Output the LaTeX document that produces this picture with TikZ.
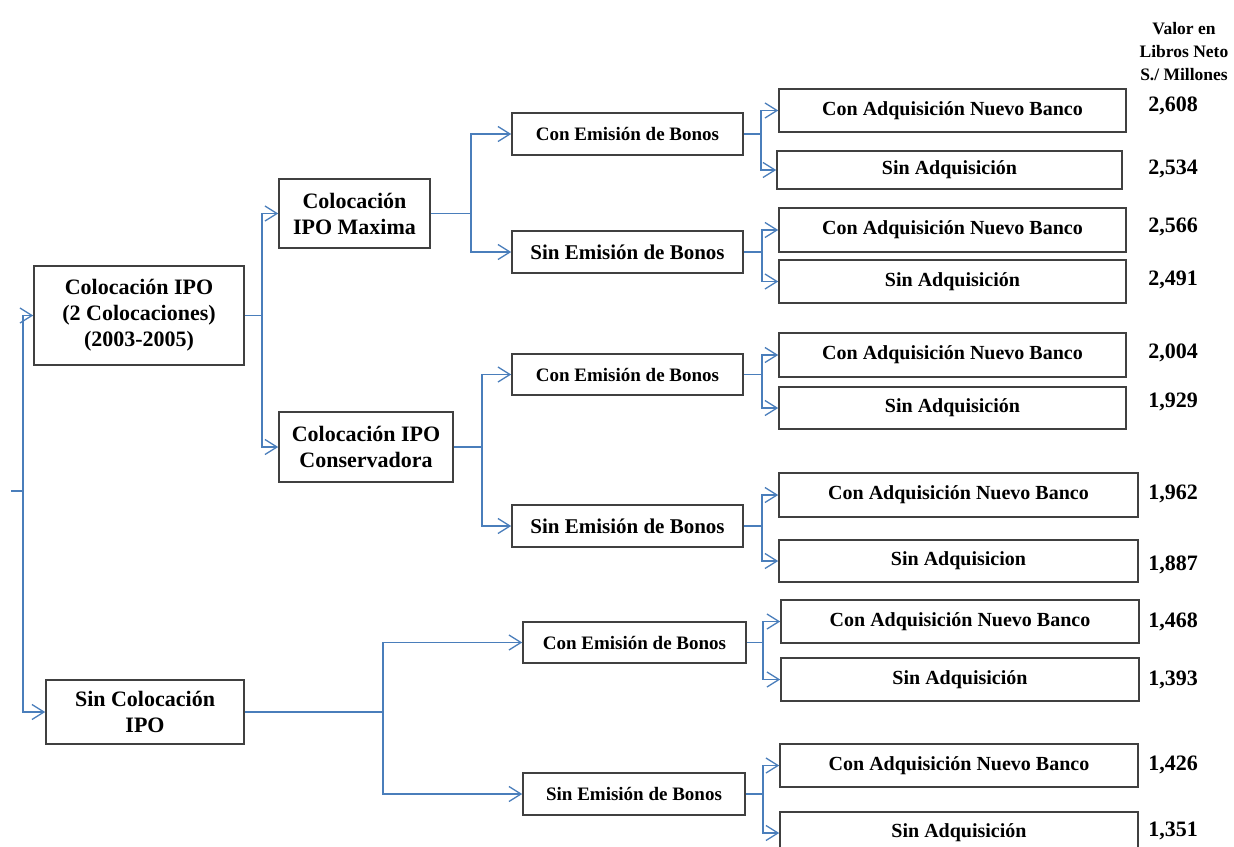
\documentclass[tikz,border=0pt]{standalone}
\usepackage{fontspec}
\setmainfont{Liberation Serif}
\usetikzlibrary{arrows.meta}
\definecolor{lineblue}{HTML}{4A7EBB}
\definecolor{boxgray}{HTML}{404040}
\tikzset{
 bx/.style 2 args={draw=boxgray, line width=1.6pt, fill=white, inner sep=0pt, align=center, minimum width=#1pt, minimum height=#2pt},
 big/.style={font=\bfseries\fontsize{22}{26}\selectfont},
 mid/.style={font=\bfseries\fontsize{19}{23}\selectfont},
 midb/.style={font=\bfseries\fontsize{21}{25}\selectfont},
 leaf/.style={font=\bfseries\fontsize{20}{24}\selectfont},
 val/.style={font=\bfseries\fontsize{22}{26}\selectfont, inner sep=0pt},
 conn/.style={draw=lineblue, line width=1.6pt, -{Straight Barb[length=12pt,width=15pt,line width=1.3pt]}},
 link/.style={draw=lineblue, line width=1.8pt},
}
\begin{document}
\begin{tikzpicture}[x=1pt,y=-1pt]
\useasboundingbox[fill=white] (0,0) rectangle (1234,846);
% header
\node[align=center, inner sep=0pt, font=\bfseries\fontsize{17.5}{23}\selectfont] (hdr) at (1184,52) {Valor en\\Libros Neto\\S./ Millones};
% level 1
\node[bx={210}{99}, big] (A) at (139,315.5) {Colocación IPO\\(2 Colocaciones)\\(2003-2005)};
\node[bx={198}{64}, big] (B) at (145,712) {Sin Colocación\\IPO};
% level 2
\node[bx={151}{69}, big] (C) at (354.5,213.5) {Colocación\\IPO Maxima};
\node[bx={174}{70}, big] (D) at (366,447) {Colocación IPO\\Conservadora};
% level 3
\node[bx={231}{42}, mid] (E1) at (627.5,134) {Con Emisión de Bonos};
\node[bx={231}{42}, midb] (E2) at (627.5,252) {Sin Emisión de Bonos};
\node[bx={231}{41}, mid] (E3) at (627.5,374.5) {Con Emisión de Bonos};
\node[bx={231}{42}, midb] (E4) at (627.5,526) {Sin Emisión de Bonos};
\node[bx={223}{41}, mid] (E5) at (634.5,642.5) {Con Emisión de Bonos};
\node[bx={222}{42}, mid] (E6) at (634,794) {Sin Emisión de Bonos};
% leaves
\node[bx={347}{43}, leaf] (L1) at (952.5,110.5) {Con Adquisición Nuevo Banco};
\node[bx={345}{38}, leaf] (L2) at (949.5,170) {Sin Adquisición};
\node[bx={347}{44}, leaf] (L3) at (952.5,230) {Con Adquisición Nuevo Banco};
\node[bx={347}{43}, leaf] (L4) at (952.5,281.5) {Sin Adquisición};
\node[bx={347}{44}, leaf] (L5) at (952.5,355) {Con Adquisición Nuevo Banco};
\node[bx={347}{42}, leaf] (L6) at (952.5,408) {Sin Adquisición};
\node[bx={359}{44}, leaf] (L7) at (958.5,495) {Con Adquisición Nuevo Banco};
\node[bx={359}{42}, leaf] (L8) at (958.5,561) {Sin Adquisicion};
\node[bx={358}{43}, leaf] (L9) at (960,621.5) {Con Adquisición Nuevo Banco};
\node[bx={358}{43}, leaf] (L10) at (960,679.5) {Sin Adquisición};
\node[bx={358}{43}, leaf] (L11) at (959,765.5) {Con Adquisición Nuevo Banco};
\node[bx={358}{42}, leaf] (L12) at (959,833) {Sin Adquisición};
% values
\node[val] (v1) at (1173,106) {2,608};
\node[val] (v2) at (1173,169) {2,534};
\node[val] (v3) at (1173,227) {2,566};
\node[val] (v4) at (1173,280) {2,491};
\node[val] (v5) at (1173,353) {2,004};
\node[val] (v6) at (1173,402) {1,929};
\node[val] (v7) at (1173,494) {1,962};
\node[val] (v8) at (1173,565) {1,887};
\node[val] (v9) at (1173,622) {1,468};
\node[val] (v10) at (1173,680) {1,393};
\node[val] (v11) at (1173,765) {1,426};
\node[val] (v12) at (1173,831) {1,351};
% junction x positions
\coordinate (root) at (11,491);
\coordinate (j0) at (23,0);
\coordinate (j1) at (262,0);
\coordinate (jC) at (471,0);
\coordinate (jD) at (482,0);
\coordinate (jB) at (383,0);
\coordinate (k1) at (761,0);
\coordinate (k2) at (762,0);
\coordinate (k3) at (763,0);
% root connectors
\draw[link] (root) -- (root -| j0);
\draw[conn] (root -| j0) |- (A.west);
\draw[conn] (root -| j0) |- (B.west);
% A
\draw[link] (A.east) -- (A.east -| j1);
\draw[conn] (A.east -| j1) |- (C.west);
\draw[conn] (A.east -| j1) |- (D.west);
% C
\draw[link] (C.east) -- (C.east -| jC);
\draw[conn] (C.east -| jC) |- (E1.west);
\draw[conn] (C.east -| jC) |- (E2.west);
% D
\draw[link] (D.east) -- (D.east -| jD);
\draw[conn] (D.east -| jD) |- (E3.west);
\draw[conn] (D.east -| jD) |- (E4.west);
% B
\draw[link] (B.east) -- (B.east -| jB);
\draw[conn] (B.east -| jB) |- (E5.west);
\draw[conn] (B.east -| jB) |- (E6.west);
% level 3 to leaves
\draw[link] (E1.east) -- (E1.east -| k1);
\draw[conn] (E1.east -| k1) |- (L1.west);
\draw[conn] (E1.east -| k1) |- (L2.west);
\draw[link] (E2.east) -- (E2.east -| k2);
\draw[conn] (E2.east -| k2) |- (L3.west);
\draw[conn] (E2.east -| k2) |- (L4.west);
\draw[link] (E3.east) -- (E3.east -| k2);
\draw[conn] (E3.east -| k2) |- (L5.west);
\draw[conn] (E3.east -| k2) |- (L6.west);
\draw[link] (E4.east) -- (E4.east -| k2);
\draw[conn] (E4.east -| k2) |- (L7.west);
\draw[conn] (E4.east -| k2) |- (L8.west);
\draw[link] (E5.east) -- (E5.east -| k3);
\draw[conn] (E5.east -| k3) |- (L9.west);
\draw[conn] (E5.east -| k3) |- (L10.west);
\draw[link] (E6.east) -- (E6.east -| k3);
\draw[conn] (E6.east -| k3) |- (L11.west);
\draw[conn] (E6.east -| k3) |- (L12.west);
\end{tikzpicture}
\end{document}
